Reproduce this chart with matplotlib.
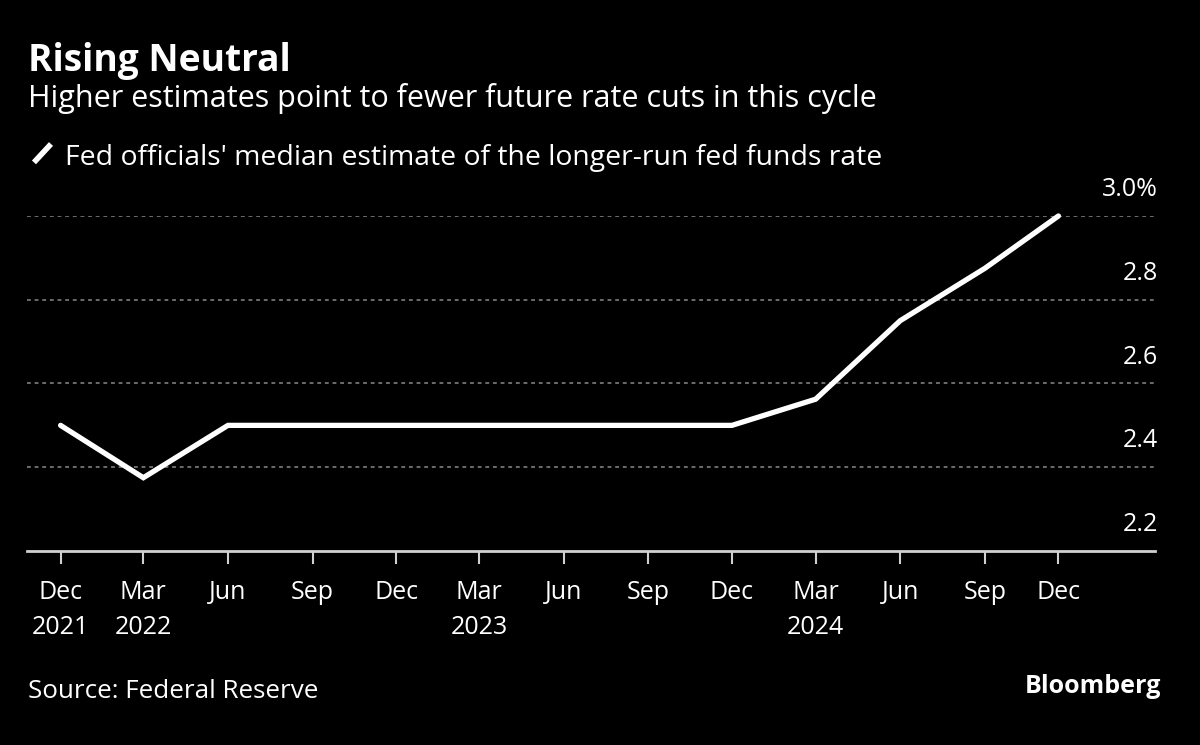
import numpy as np
import pandas as pd
import matplotlib
matplotlib.use("Agg")
import matplotlib.pyplot as plt
from matplotlib.lines import Line2D

plt.rcParams['font.family'] = ['Open Sans', 'DejaVu Sans']

# Fed officials' median longer-run fed funds rate estimate (SEP releases)
dates = pd.to_datetime(["2021-12-15", "2022-03-15", "2022-06-15", "2022-09-15",
                        "2022-12-15", "2023-03-15", "2023-06-15", "2023-09-15",
                        "2023-12-15", "2024-03-15", "2024-06-15", "2024-09-15",
                        "2024-12-04"])
rates = [2.5, 2.375, 2.5, 2.5, 2.5, 2.5, 2.5, 2.5, 2.5, 2.5625, 2.75, 2.875, 3.0]
tick_labels = ["Dec\n2021", "Mar\n2022", "Jun", "Sep", "Dec", "Mar\n2023", "Jun",
               "Sep", "Dec", "Mar\n2024", "Jun", "Sep", "Dec"]
y_ticks = [2.2, 2.4, 2.6, 2.8, 3.0]
y_labels = ["2.2", "2.4", "2.6", "2.8", "3.0%"]

bg = "black"
fg = "white"

fig = plt.figure(figsize=(12, 7.45), dpi=100, facecolor=bg)
ax = fig.add_axes([0.0229, 0.2604, 0.9396, 0.4497], facecolor=bg)

ax.plot(dates, rates, color=fg, lw=3.8, solid_joinstyle="miter",
        solid_capstyle="round", clip_on=False, zorder=3)

ax.set_ylim(2.2, 3.0)
ax.set_xlim(dates[0] - pd.Timedelta(days=36), dates[0] + pd.Timedelta(days=1190))

# dotted gridlines
for v in y_ticks[1:]:
    ax.axhline(v, color="#8a8a8a", lw=1.1, ls=(0, (2.5, 2.5)), zorder=1)
for v, lab in zip(y_ticks, y_labels):
    ax.annotate(lab, xy=(1, v), xycoords=("axes fraction", "data"),
                xytext=(2, 10), textcoords="offset points", ha="right",
                va="bottom", color=fg, fontsize=18)

ax.set_yticks([])
for s in ["top", "left", "right"]:
    ax.spines[s].set_visible(False)
ax.spines["bottom"].set_color("#d0d0d0")
ax.spines["bottom"].set_linewidth(2)

ax.set_xticks(dates)
ax.set_xticklabels(tick_labels, fontsize=18, color=fg, linespacing=1.5)
ax.tick_params(axis="x", length=9, width=1.5, color="#d0d0d0", pad=12)

fig.text(0.0233, 0.9047, "Rising Neutral", color=fg, fontsize=26.7,
         fontweight="bold", va="baseline")
fig.text(0.0233, 0.8564, "Higher estimates point to fewer future rate cuts in this cycle",
         color=fg, fontsize=22, va="baseline")

# legend swatch + text
fig.add_artist(Line2D([0.0283, 0.0425], [0.782, 0.8067], color=fg, lw=4,
                      solid_capstyle="butt", transform=fig.transFigure))
fig.text(0.054, 0.779, "Fed officials' median estimate of the longer-run fed funds rate",
         color=fg, fontsize=20.45, va="baseline")

fig.text(0.0233, 0.063, "Source: Federal Reserve", color=fg, fontsize=18.7,
         va="baseline")
fig.text(0.968, 0.07, "Bloomberg", color=fg, fontsize=18, fontweight="bold",
         ha="right", va="baseline")

fig.savefig("out.png", dpi=100, facecolor=bg)
